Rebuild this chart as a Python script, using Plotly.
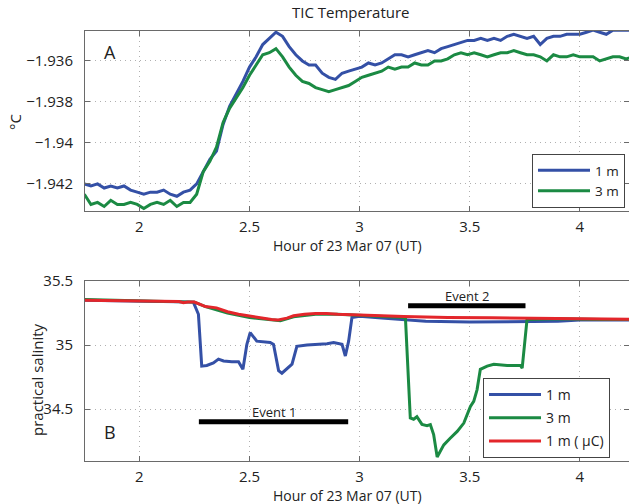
import plotly.graph_objects as go

# ---------------- data ----------------
temp_time = [1.75, 1.78, 1.81, 1.84, 1.87, 1.90, 1.93, 1.96, 1.99, 2.02, 2.05, 2.08, 2.11, 2.14,
             2.17, 2.20, 2.23, 2.26, 2.29, 2.32, 2.35, 2.38, 2.41, 2.44, 2.47, 2.50, 2.53, 2.56,
             2.59, 2.62, 2.65, 2.68, 2.71, 2.74, 2.77, 2.80, 2.83, 2.86, 2.89, 2.92, 2.95, 2.98,
             3.01, 3.04, 3.07, 3.10, 3.13, 3.16, 3.19, 3.22, 3.25, 3.28, 3.31, 3.34, 3.37, 3.40,
             3.43, 3.46, 3.49, 3.52, 3.55, 3.58, 3.61, 3.64, 3.67, 3.70, 3.73, 3.76, 3.79, 3.82,
             3.85, 3.88, 3.91, 3.94, 3.97, 4.00, 4.03, 4.06, 4.09, 4.12, 4.15, 4.18, 4.21, 4.24]

temp_1m = [-1.9420, -1.9421, -1.9420, -1.9422, -1.9421, -1.9422, -1.9421, -1.9423, -1.9424, -1.9425,
           -1.9424, -1.9424, -1.9423, -1.9425, -1.9426, -1.9424, -1.9423, -1.9420, -1.9414, -1.9408,
           -1.9404, -1.9391, -1.9382, -1.9376, -1.9370, -1.9363, -1.9358, -1.9352, -1.9349, -1.9346,
           -1.9348, -1.9353, -1.9357, -1.9360, -1.9362, -1.9362, -1.9366, -1.9368, -1.9369, -1.9366,
           -1.9365, -1.9364, -1.9363, -1.9361, -1.9362, -1.9361, -1.9359, -1.9357, -1.9357, -1.9358,
           -1.9357, -1.9356, -1.9355, -1.9356, -1.9354, -1.9353, -1.9352, -1.9351, -1.9350, -1.9350,
           -1.9349, -1.9350, -1.9349, -1.9350, -1.9348, -1.9347, -1.9348, -1.9349, -1.9348, -1.9352,
           -1.9349, -1.9348, -1.9348, -1.9347, -1.9347, -1.9347, -1.9346, -1.9345, -1.9346, -1.9347,
           -1.9345, -1.9345, -1.9345, -1.9345]

temp_3m = [-1.9425, -1.9430, -1.9429, -1.9431, -1.9428, -1.9430, -1.9430, -1.9429, -1.9430, -1.9432,
           -1.9430, -1.9429, -1.9430, -1.9428, -1.9431, -1.9429, -1.9429, -1.9425, -1.9414, -1.9409,
           -1.9402, -1.9390, -1.9383, -1.9378, -1.9373, -1.9367, -1.9362, -1.9357, -1.9356, -1.9354,
           -1.9358, -1.9363, -1.9367, -1.9370, -1.9371, -1.9373, -1.9374, -1.9375, -1.9374, -1.9373,
           -1.9372, -1.9370, -1.9368, -1.9367, -1.9366, -1.9365, -1.9363, -1.9364, -1.9363, -1.9363,
           -1.9361, -1.9362, -1.9362, -1.9360, -1.9360, -1.9359, -1.9357, -1.9356, -1.9357, -1.9356,
           -1.9357, -1.9358, -1.9357, -1.9356, -1.9356, -1.9355, -1.9356, -1.9357, -1.9357, -1.9358,
           -1.9360, -1.9357, -1.9358, -1.9358, -1.9357, -1.9358, -1.9358, -1.9358, -1.9360, -1.9359,
           -1.9358, -1.9358, -1.9359, -1.9358]

sal_1m_time = [1.75, 2.0, 2.2, 2.245, 2.268, 2.283, 2.306, 2.336, 2.359, 2.382, 2.42, 2.45, 2.47,
               2.488, 2.503, 2.533, 2.594, 2.609, 2.632, 2.647, 2.693, 2.715, 2.761, 2.807, 2.852,
               2.882, 2.92, 2.935, 2.95, 2.965, 3.0, 3.1, 3.2, 3.3, 3.5, 3.7, 3.9, 4.0, 4.24]
sal_1m = [35.35, 35.34, 35.335, 35.335, 35.24, 34.835, 34.84, 34.86, 34.89, 34.875, 34.87, 34.87,
          34.81, 35.005, 35.097, 35.03, 35.02, 35.005, 34.80, 34.78, 34.85, 34.99, 35.0, 35.005,
          35.01, 35.02, 35.005, 34.914, 35.03, 35.215, 35.225, 35.21, 35.2, 35.185, 35.18, 35.18,
          35.185, 35.195, 35.195]

sal_3m_time = [1.75, 2.0, 2.2, 2.25, 2.30, 2.40, 2.50, 2.60, 2.64, 2.70, 2.80, 2.90, 3.00, 3.10,
               3.20, 3.208, 3.23, 3.245, 3.26, 3.283, 3.306, 3.321, 3.336, 3.352, 3.382, 3.41,
               3.443, 3.473, 3.503, 3.518, 3.533, 3.548, 3.579, 3.609, 3.67, 3.73, 3.738, 3.76,
               3.9, 4.1, 4.24]
sal_3m = [35.355, 35.345, 35.335, 35.335, 35.30, 35.25, 35.215, 35.195, 35.19, 35.22, 35.24, 35.24,
          35.232, 35.225, 35.215, 35.21, 34.43, 34.42, 34.44, 34.38, 34.37, 34.378, 34.30, 34.125,
          34.22, 34.27, 34.325, 34.39, 34.52, 34.56, 34.65, 34.81, 34.835, 34.85, 34.84, 34.84,
          34.82, 35.2, 35.205, 35.2, 35.2]

sal_uc_time = [1.75, 1.90, 2.05, 2.18, 2.20, 2.22, 2.25, 2.30, 2.35, 2.40, 2.45, 2.50, 2.55, 2.60,
               2.63, 2.67, 2.70, 2.75, 2.80, 2.85, 2.90, 3.00, 3.10, 3.20, 3.30, 3.40, 3.60, 3.80,
               4.00, 4.24]
sal_uc = [35.35, 35.345, 35.34, 35.34, 35.33, 35.335, 35.335, 35.30, 35.29, 35.26, 35.24, 35.225,
          35.215, 35.20, 35.195, 35.21, 35.228, 35.24, 35.246, 35.246, 35.24, 35.236, 35.228,
          35.222, 35.216, 35.215, 35.212, 35.21, 35.205, 35.20]

event1_x = [2.27, 2.948]
event1_y = [34.4, 34.4]
event2_x = [3.22, 3.753]
event2_y = [35.306, 35.306]

temp_ticks = [-1.942, -1.94, -1.938, -1.936]
temp_ticktext = ["\u22121.942", "\u22121.94", "\u22121.938", "\u22121.936"]
sal_ticks = [34.5, 35, 35.5]
sal_ticktext = ["34.5", "35", "35.5"]
x_ticks = [2, 2.5, 3, 3.5, 4]
x_ticktext = ["2", "2.5", "3", "3.5", "4"]

# ---------------- styling ----------------
W, H = 629, 504
BLUE = "#3450a6"
GREEN = "#1b8a43"
RED = "#e3262b"
FONT = "Open Sans"
AX = "#6a6a6a"
GRID = "#b0b0b0"
TXT = "#222222"

def py(p):
    return 1 - p / H

fig = go.Figure()

fig.add_trace(go.Scatter(x=temp_time, y=temp_1m, mode="lines", name="1 m",
                         line=dict(color=BLUE, width=3), xaxis="x", yaxis="y", legend="legend"))
fig.add_trace(go.Scatter(x=temp_time, y=temp_3m, mode="lines", name="3 m",
                         line=dict(color=GREEN, width=3), xaxis="x", yaxis="y", legend="legend"))

fig.add_trace(go.Scatter(x=event1_x, y=event1_y, mode="lines", showlegend=False,
                         line=dict(color="black", width=5), xaxis="x2", yaxis="y2"))
fig.add_trace(go.Scatter(x=event2_x, y=event2_y, mode="lines", showlegend=False,
                         line=dict(color="black", width=5), xaxis="x2", yaxis="y2"))

fig.add_trace(go.Scatter(x=sal_1m_time, y=sal_1m, mode="lines", name="1 m", legendgroup="a",
                         line=dict(color=BLUE, width=3), xaxis="x2", yaxis="y2", legend="legend2"))
fig.add_trace(go.Scatter(x=sal_3m_time, y=sal_3m, mode="lines", name="3 m", legendgroup="b",
                         line=dict(color=GREEN, width=3), xaxis="x2", yaxis="y2", legend="legend2"))
fig.add_trace(go.Scatter(x=sal_uc_time, y=sal_uc, mode="lines", name="1 m ( \u03bcC)", legendgroup="c",
                         line=dict(color=RED, width=3), xaxis="x2", yaxis="y2", legend="legend2"))

xcommon = dict(range=[1.753, 4.223], tickvals=x_ticks, ticktext=x_ticktext,
               showline=True, mirror="ticks", linecolor=AX, linewidth=1,
               ticks="inside", ticklen=5, tickcolor=AX,
               showgrid=True, gridcolor=GRID, griddash="1px,4px", gridwidth=1,
               zeroline=False, automargin=False, ticklabelstandoff=2,
               tickfont=dict(family=FONT, size=15, color=TXT))
ycommon = dict(showline=True, mirror="ticks", linecolor=AX, linewidth=1,
               ticks="inside", ticklen=5, tickcolor=AX,
               showgrid=True, gridcolor=GRID, griddash="1px,4px", gridwidth=1,
               zeroline=False, automargin=False, ticklabelstandoff=8,
               tickfont=dict(family=FONT, size=15, color=TXT))

fig.update_layout(
    width=W, height=H,
    margin=dict(l=0, r=0, t=0, b=0),
    paper_bgcolor="white", plot_bgcolor="white",
    font=dict(family=FONT, size=14, color=TXT),
    xaxis=dict(domain=[85 / W, 1.0], anchor="y", **xcommon),
    yaxis=dict(domain=[py(211), py(31)], anchor="x", range=[-1.94332, -1.93454],
               tickvals=temp_ticks, ticktext=temp_ticktext, **ycommon),
    xaxis2=dict(domain=[85 / W, 1.0], anchor="y2", **xcommon),
    yaxis2=dict(domain=[py(461), py(281)], anchor="x2", range=[34.094, 35.5],
                tickvals=sal_ticks, ticktext=sal_ticktext, **ycommon),
    legend=dict(x=625 / W, xanchor="right", y=py(208), yanchor="bottom",
                bgcolor="white", bordercolor="#444", borderwidth=1, itemwidth=52,
                font=dict(family=FONT, size=13.5, color=TXT)),
    legend2=dict(x=483 / W, xanchor="left", y=py(378), yanchor="top",
                 bgcolor="white", bordercolor="#444", borderwidth=1, itemwidth=52,
                 traceorder="grouped", tracegroupgap=2,
                 font=dict(family=FONT, size=14, color=TXT)),
    showlegend=True,
)

def pann(text, x, y, size, angle=0):
    return dict(text=text, x=x / W, y=py(y), xref="paper", yref="paper",
                xanchor="center", yanchor="middle", textangle=angle,
                showarrow=False, font=dict(size=size))

ann = [
    pann("TIC Temperature", 351, 12, 15),
    pann("Hour of 23 Mar 07 (UT)", 347.5, 245, 14),
    pann("Hour of 23 Mar 07 (UT)", 347.5, 495, 14),
    pann("\u00b0C", 15, 122, 15, -90),
    pann("practical salinity", 37, 380, 15, -90),
    pann("A", 110, 52, 18),
    pann("B", 110, 432, 18),
    dict(text="Event 1", x=(event1_x[0] + event1_x[1]) / 2, y=event1_y[0], xref="x2", yref="y2",
         xanchor="center", yanchor="bottom", yshift=-1, showarrow=False, font=dict(size=13)),
    dict(text="Event 2", x=(event2_x[0] + event2_x[1]) / 2, y=event2_y[0], xref="x2", yref="y2",
         xanchor="center", yanchor="bottom", yshift=-1, showarrow=False, font=dict(size=13)),
]
fig.update_layout(annotations=ann)

fig.write_html("out.html")
